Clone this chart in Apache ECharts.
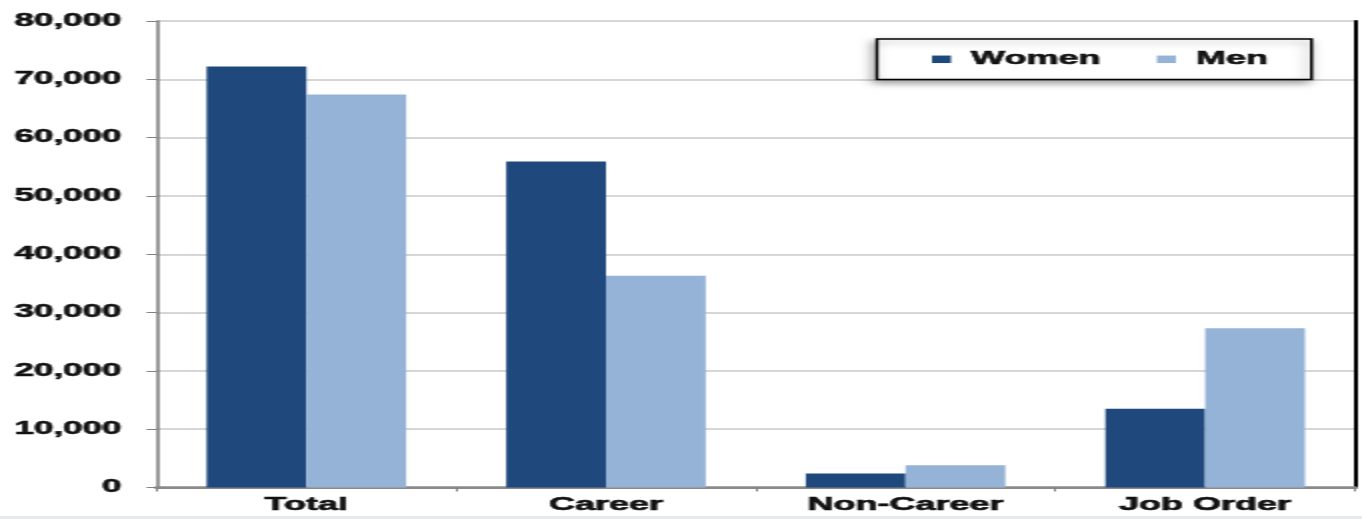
<!DOCTYPE html>
<html>
<head>
<meta charset="utf-8">
<script src="https://cdn.jsdelivr.net/npm/echarts@6/dist/echarts.min.js"></script>
<style>
  html, body { margin: 0; padding: 0; background: #ffffff; overflow: hidden; }
  #wrap { position: relative; width: 1362px; height: 519px; overflow: hidden; }
  /* chart is laid out at half width and stretched horizontally */
  #chart { position: absolute; left: 0; top: 0; width: 681px; height: 519px;
           transform: scaleX(2); transform-origin: 0 0; }
  #strip { position: absolute; left: 0; bottom: 0; width: 1362px; height: 3px; background: #e6eaee; }
</style>
</head>
<body>
<div id="wrap">
  <div id="chart"></div>
  <div id="strip"></div>
</div>
<script>
const categories = ['Total', 'Career', 'Non-Career', 'Job Order'];
const women = [72200, 55900, 2400, 13500];
const men = [67400, 36300, 3800, 27300];
const seriesNames = ['Women', 'Men'];
const yTicks = { min: 0, max: 80000, interval: 10000 };

const FONT = '"Liberation Sans", Arial, sans-serif';
const INK = '#111111';
// heavy label text: bold face plus a thin stroke of the same colour
const heavy = { fontFamily: FONT, fontWeight: 'bold', color: INK,
                textBorderColor: INK, textBorderWidth: 0.6 };

const chart = echarts.init(document.getElementById('chart'), null, { renderer: 'canvas' });

const fmt = v => v.toLocaleString('en-US');

chart.setOption({
  animation: false,
  backgroundColor: '#ffffff',
  grid: { left: 78.3, right: 3.5, top: 21, bottom: 31.5, containLabel: false },
  legend: {
    data: seriesNames,
    left: 438.5,
    top: 39,
    orient: 'horizontal',
    icon: 'rect',
    itemWidth: 9.5,
    itemHeight: 7.5,
    itemGap: 28,
    padding: [11, 21.5, 11, 27.5],
    backgroundColor: '#ffffff',
    borderColor: '#000000',
    borderWidth: 1.5,
    shadowColor: 'rgba(0,0,0,0.35)',
    shadowBlur: 6,
    shadowOffsetX: -1.5,
    shadowOffsetY: 3,
    textStyle: Object.assign({ fontSize: 18, padding: [0, 0, 0, 5] }, heavy)
  },
  xAxis: [
    {
      type: 'category',
      data: categories,
      position: 'bottom',
      axisLine: { show: true, lineStyle: { color: '#808080', width: 2 } },
      axisTick: { show: true, inside: false, length: 4, alignWithLabel: false,
                  lineStyle: { color: '#808080', width: 1 } },
      axisLabel: Object.assign({ margin: 9, fontSize: 18 }, heavy),
      splitLine: { show: false }
    },
    {
      type: 'category',
      data: categories,
      position: 'top',
      axisLine: { show: true, lineStyle: { color: '#8a8a8a', width: 2.5 } },
      axisTick: { show: false },
      axisLabel: { show: false },
      splitLine: { show: false }
    }
  ],
  yAxis: [
    {
      type: 'value',
      min: yTicks.min,
      max: yTicks.max,
      interval: yTicks.interval,
      position: 'left',
      axisLine: { show: true, lineStyle: { color: '#7a7a7a', width: 1.5 } },
      axisTick: { show: true, inside: false, length: 5, lineStyle: { color: '#808080', width: 1 } },
      axisLabel: Object.assign({ margin: 17.5, formatter: fmt, fontSize: 17.5 }, heavy),
      splitLine: { show: true, lineStyle: { color: '#d6d6d6', width: 2 } }
    },
    {
      type: 'value',
      min: yTicks.min,
      max: yTicks.max,
      interval: yTicks.interval,
      position: 'right',
      axisLine: { show: true, lineStyle: { color: '#000000', width: 2 } },
      axisTick: { show: false },
      axisLabel: { show: false },
      splitLine: { show: false }
    }
  ],
  series: [
    {
      name: seriesNames[0],
      type: 'bar',
      data: women,
      barGap: '0%',
      barCategoryGap: '33.4%',
      itemStyle: { color: '#1F497D' }
    },
    {
      name: seriesNames[1],
      type: 'bar',
      data: men,
      barGap: '0%',
      barCategoryGap: '33.4%',
      itemStyle: { color: '#95B3D7' }
    }
  ]
});
</script>
</body>
</html>
